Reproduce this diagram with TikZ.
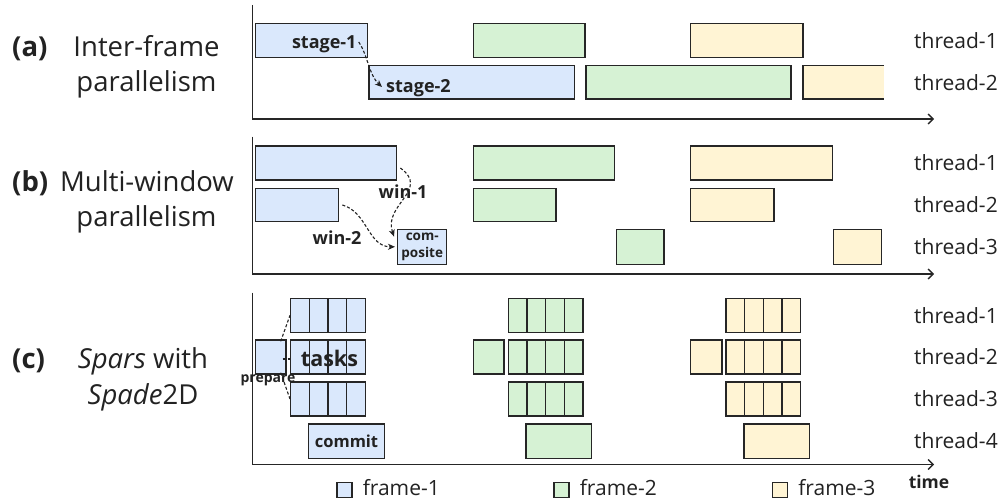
\documentclass[tikz,border=0pt]{standalone}
\usepackage{fontspec}
\setmainfont{Open Sans}
\usetikzlibrary{arrows.meta,fit,calc}
\definecolor{fblue}{HTML}{DAE8FC}
\definecolor{fgreen}{HTML}{D6F2D4}
\definecolor{fyellow}{HTML}{FFF4D4}
\definecolor{edge}{HTML}{262626}
\definecolor{ink}{HTML}{222222}
\begin{document}
\begin{tikzpicture}[x=1pt,y=-1pt,
  bar/.style={draw=edge, line width=1.4pt, inner sep=0pt},
  axis/.style={draw=edge, line width=1.4pt},
  axisarrow/.style={axis, -{Straight Barb[length=5pt,width=10pt,line width=1.4pt]}},
  flow/.style={draw=ink, densely dashed, line width=1.1pt, -{Stealth[length=7pt,width=6pt,inset=2pt]}},
  link/.style={draw=ink, densely dashed, line width=1.1pt},
  thr/.style={anchor=west, inner sep=0pt, text=ink, font=\fontsize{21}{24}\selectfont},
  tag/.style={inner sep=0pt, text=ink, font=\bfseries\fontsize{18}{21}\selectfont},
  paneltitle/.style={inner sep=0pt, text=ink, font=\fontsize{27.5}{32}\selectfont},
  panelmark/.style={inner sep=0pt, text=ink, anchor=base west, font=\bfseries\fontsize{27.5}{32}\selectfont},
  legbox/.style={draw=edge, line width=1.2pt, inner sep=0pt},
]
\useasboundingbox (0,0) rectangle (1001,500);

% a bar spanning (x1,y1)-(x2,y2)
\newcommand\seg[6]{\node[bar, fill=#2, fit={(#3,#4) (#5,#6)}] (#1) {};}
% a run of four task cells starting at (x,y)
\newcommand\cellrun[4]{%
  \foreach \k in {0,...,3}
    \node[bar, fill=#4, fit={({#2+\k*18.65},#3) ({#2+(\k+1)*18.65},{#3+34})}] (#1-\k) {};}

% ---------------- captions on the left ----------------
\node[panelmark] (capa) at (12,57) {(a)};
\node[paneltitle, anchor=base] (capa1) at (146.5,57) {Inter-frame};
\node[paneltitle, anchor=base] (capa2) at (146.5,92) {parallelism};

\node[panelmark] (capb) at (12,191) {(b)};
\node[paneltitle, anchor=base] (capb1) at (147,191) {Multi-window};
\node[paneltitle, anchor=base] (capb2) at (146.5,226) {parallelism};

\node[panelmark] (capc) at (12,368) {(c)};
\node[paneltitle, anchor=base] (capc1) at (143,368) {\textit{Spars} with};
\node[paneltitle, anchor=base] (capc2) at (143,404) {\textit{Spade}2D};

% ---------------- (a) inter-frame ----------------
\coordinate (a-top) at (252.7,5);
\coordinate (a-org) at (252.7,119);
\coordinate (a-end) at (934,119);
\draw[axisarrow] (a-top) -- (a-org) -- (a-end);

\seg{a11}{fblue}{255.3}{23.3}{367.3}{57.3}
\seg{a21}{fblue}{369}{65.7}{574.3}{99}
\seg{a12}{fgreen}{473.3}{23.3}{585}{57.3}
\seg{a22}{fgreen}{586}{65.7}{791}{99}
\seg{a13}{fyellow}{690.7}{23.3}{803}{57.3}
\node[fill=fyellow, inner sep=0pt, fit={(803.3,65.7) (884,99)}] (a23) {};
\draw[axis] (a23.north east) -- (a23.north west) -- (a23.south west) -- (a23.south east);

\node[tag, anchor=base east] (st1) at (356.7,49) {stage-1};
\node[tag, anchor=base west] (st2) at (386,93) {stage-2};
\draw[flow] ($(st1.base east)+(2,-7)$) .. controls +(9,13) and +(-13,-12) .. ($(st2.base west)+(-4,-6)$);

\node[thr] (ta1) at (914,40.3) {thread-1};
\node[thr] (ta2) at (914,82.3) {thread-2};

% ---------------- (b) multi-window ----------------
\coordinate (b-top) at (252.7,136.7);
\coordinate (b-org) at (252.7,274);
\coordinate (b-end) at (934,274);
\draw[axisarrow] (b-top) -- (b-org) -- (b-end);

\seg{b11}{fblue}{255.3}{146}{396.7}{180}
\seg{b21}{fblue}{255.3}{188.3}{338.7}{221.7}
\seg{comp}{fblue}{397.7}{229.3}{446.7}{264.3}
\node[inner sep=0pt, align=center, text=ink, font=\bfseries\fontsize{13.5}{16.5}\selectfont] (compt) at (comp.center) {com-\\posite};
\seg{b12}{fgreen}{473.3}{146}{614.3}{180}
\seg{b22}{fgreen}{473.3}{188.3}{556}{221.7}
\seg{b32}{fgreen}{616.7}{229.3}{664}{264.3}
\seg{b13}{fyellow}{690.7}{146}{832.3}{180}
\seg{b23}{fyellow}{690.7}{188.3}{774}{221.7}
\seg{b33}{fyellow}{833.3}{229.3}{881.3}{264.3}

\draw[flow] ($(b11.east)+(3,5)$) .. controls +(30,22) and +(-11,-32) .. ($(comp.north west)+(-3,8)$);
\draw[flow] ($(b21.east)+(3,0)$) .. controls +(25,7) and +(-27,0) .. ($(comp.west)+(-2,0)$);
\node[tag] (w1) at (403,192) {win-1};
\node[tag] (w2) at (337,238) {win-2};

\node[thr] (tb1) at (914,163) {thread-1};
\node[thr] (tb2) at (914,205) {thread-2};
\node[thr] (tb3) at (914,246.8) {thread-3};

% ---------------- (c) Spars with Spade2D ----------------
\coordinate (c-top) at (252.7,292.7);
\coordinate (c-org) at (252.7,464.5);
\coordinate (c-end) at (934,464.5);
\draw[axisarrow] (c-top) -- (c-org) -- (c-end);

% frame-1
\seg{prep}{fblue}{255.7}{340}{286}{374}
\cellrun{c11}{290.7}{298.3}{fblue}
\cellrun{c21}{290.7}{340}{fblue}
\cellrun{c31}{290.7}{382}{fblue}
\seg{cm1}{fblue}{308.3}{424}{384.7}{458.3}
% frame-2
\seg{pg}{fgreen}{473.3}{340}{504}{374}
\cellrun{c12}{508.3}{298.3}{fgreen}
\cellrun{c22}{508.3}{340}{fgreen}
\cellrun{c32}{508.3}{382}{fgreen}
\seg{cm2}{fgreen}{526}{424}{591.7}{458.3}
% frame-3
\seg{py}{fyellow}{690.7}{340}{722}{374}
\cellrun{c13}{726}{298.3}{fyellow}
\cellrun{c23}{726}{340}{fyellow}
\cellrun{c33}{726}{382}{fyellow}
\seg{cm3}{fyellow}{744}{424}{809.7}{458.3}

\draw[link] ($(prep.north east)+(-6,2)$) -- (c11-0.west);
\draw[link] ($(prep.east)+(-4,2)$) -- ($(c21-0.west)+(0,2)$);
\draw[link] ($(prep.south east)+(-6,-2)$) -- (c31-0.west);

\node[tag, font=\bfseries\fontsize{21.5}{24}\selectfont] (tasks) at (329.5,358) {tasks};
\node[tag, font=\bfseries\fontsize{14}{17}\selectfont] (prept) at (268,380) {prepare};
\node[tag, font=\bfseries\fontsize{16.5}{20}\selectfont] (cmt) at (346.5,441) {commit};

\node[thr] (tc1) at (914,315.3) {thread-1};
\node[thr] (tc2) at (914,357) {thread-2};
\node[thr] (tc3) at (914,399) {thread-3};
\node[thr] (tc4) at (914,441) {thread-4};

\node[tag, font=\bfseries\fontsize{17.5}{20}\selectfont] (time) at (929,482) {time};

% ---------------- legend ----------------
\node[legbox, fill=fblue, fit={(337,482.2) (352,497.2)}] (lg1) {};
\node[thr] (lt1) at ($(lg1.east)+(10,-2)$) {frame-1};
\node[legbox, fill=fgreen, fit={(554,482.2) (569,497.2)}] (lg2) {};
\node[thr] (lt2) at ($(lg2.east)+(10,-2)$) {frame-2};
\node[legbox, fill=fyellow, fit={(772.5,482.2) (787.5,497.2)}] (lg3) {};
\node[thr] (lt3) at ($(lg3.east)+(10,-2)$) {frame-3};
\end{tikzpicture}
\end{document}
